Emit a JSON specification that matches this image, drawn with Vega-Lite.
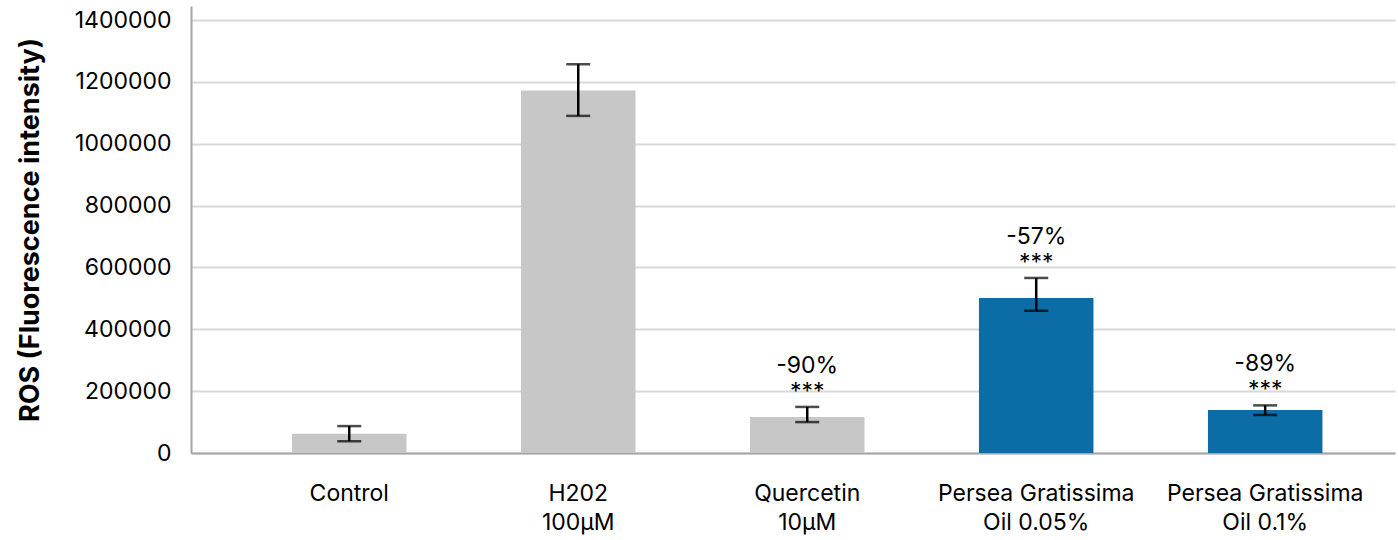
{
  "$schema": "https://vega.github.io/schema/vega-lite/v6.json",
  "width": 1204,
  "height": 447,
  "autosize": {"type": "none"},
  "padding": {"left": 191, "top": 6, "right": 3, "bottom": 87},
  "background": "white",
  "config": {
    "view": {"stroke": null},
    "font": "Inter"
  },
  "data": {
    "values": [
      {"label": "Control", "type": "ref", "value": 62000, "lo": 38000, "hi": 87000, "pct": "", "sig": ""},
      {"label": "H202\n100µM", "type": "ref", "value": 1172000, "lo": 1090000, "hi": 1257000, "pct": "", "sig": ""},
      {"label": "Quercetin\n10µM", "type": "ref", "value": 116000, "lo": 100000, "hi": 149000, "pct": "-90%", "sig": "***"},
      {"label": "Persea Gratissima\nOil 0.05%", "type": "oil", "value": 501000, "lo": 460000, "hi": 566000, "pct": "-57%", "sig": "***"},
      {"label": "Persea Gratissima\nOil 0.1%", "type": "oil", "value": 139000, "lo": 123000, "hi": 154000, "pct": "-89%", "sig": "***"}
    ]
  },
  "encoding": {
    "x": {
      "field": "label",
      "type": "nominal",
      "sort": null,
      "scale": {"paddingInner": 0.5, "paddingOuter": 0.379, "align": 0.582},
      "axis": {
        "title": null,
        "labelAngle": 0,
        "labelExpr": "split(datum.label, '\\n')",
        "labelFontSize": 23,
        "labelColor": "#000000",
        "labelPadding": 40,
        "labelLineHeight": 29,
        "labelBaseline": "middle",
        "labelLimit": 400,
        "labelOverlap": false,
        "ticks": false,
        "domainColor": "#a6a6a6",
        "domainWidth": 2,
        "grid": false
      }
    }
  },
  "layer": [
    {
      "mark": {"type": "bar"},
      "encoding": {
        "y": {
          "field": "value",
          "type": "quantitative",
          "scale": {"domain": [0, 1445300], "nice": false, "zero": true},
          "axis": {
            "title": "ROS (Fluorescence intensity)",
            "titleFontSize": 27,
            "titleFontWeight": "bold",
            "titleColor": "#000000",
            "titlePadding": 30,
            "values": [0, 200000, 400000, 600000, 800000, 1000000, 1200000, 1400000],
            "format": "d",
            "labelFontSize": 23,
            "labelColor": "#000000",
            "labelPadding": 20,
            "ticks": false,
            "domainColor": "#a6a6a6",
            "domainWidth": 2,
            "gridColor": "#d9d9d9",
            "gridWidth": 2
          }
        },
        "color": {
          "field": "type",
          "type": "nominal",
          "scale": {"domain": ["ref", "oil"], "range": ["#c8c7c8", "#0b6ca6"]},
          "legend": null
        }
      }
    },
    {
      "mark": {"type": "rule", "color": "#000000", "strokeWidth": 2.5},
      "encoding": {
        "y": {"field": "lo", "type": "quantitative"},
        "y2": {"field": "hi"}
      }
    },
    {
      "mark": {"type": "tick", "color": "#000000", "thickness": 2.5, "size": 24},
      "encoding": {
        "y": {"field": "lo", "type": "quantitative"}
      }
    },
    {
      "mark": {"type": "tick", "color": "#000000", "thickness": 2.5, "size": 24},
      "encoding": {
        "y": {"field": "hi", "type": "quantitative"}
      }
    },
    {
      "mark": {"type": "text", "fontSize": 23, "dy": -15, "baseline": "middle", "color": "#000000"},
      "encoding": {
        "y": {"field": "hi", "type": "quantitative"},
        "text": {"field": "sig"}
      }
    },
    {
      "mark": {"type": "text", "fontSize": 23, "dy": -41, "baseline": "middle", "color": "#000000"},
      "encoding": {
        "y": {"field": "hi", "type": "quantitative"},
        "text": {"field": "pct"}
      }
    }
  ]
}
